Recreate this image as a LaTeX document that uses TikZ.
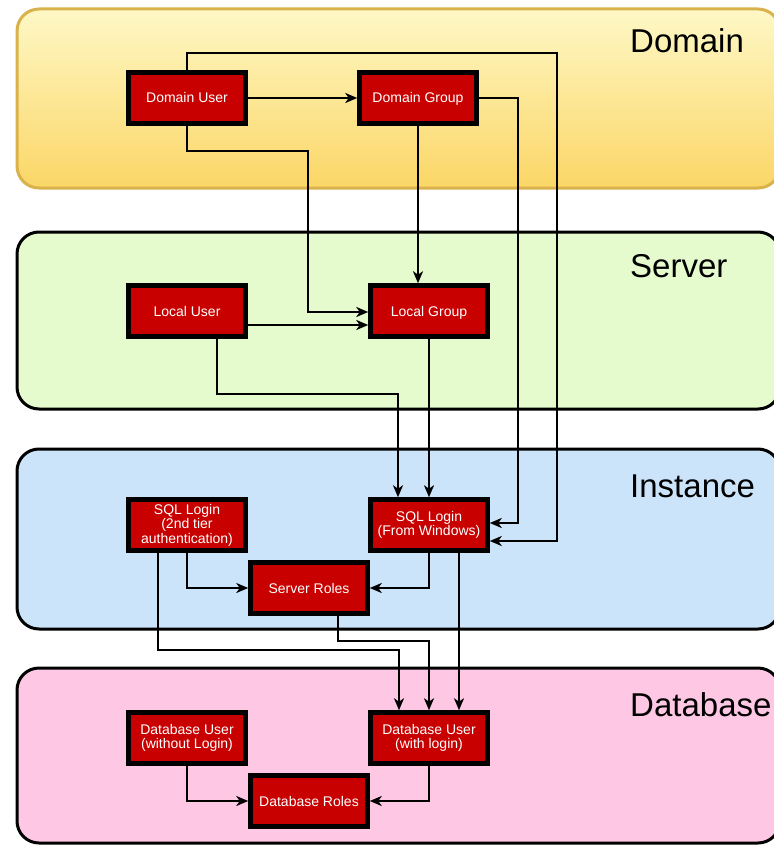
\documentclass[tikz,border=0pt]{standalone}
\usepackage{fontspec}
\setmainfont{Liberation Sans}
\usetikzlibrary{arrows.meta}
\definecolor{boxred}{HTML}{C80000}
\definecolor{domtop}{HTML}{FEF8C6}
\definecolor{dombot}{HTML}{FBD666}
\definecolor{domline}{HTML}{D9B24C}
\definecolor{srvfill}{HTML}{E5FBCD}
\definecolor{insfill}{HTML}{CCE4FA}
\definecolor{dbfill}{HTML}{FEC7E4}
\tikzset{
  objbox/.style={draw=black, line width=4.5pt, fill=boxred, text=white,
    minimum width=117pt, minimum height=51pt, inner sep=0pt, align=center,
    font=\fontsize{14}{14.5}\selectfont},
  oneline/.style={text height=10pt, text depth=0pt},
  panel/.style={line width=3pt, rounded corners=22pt},
  paneltitle/.style={anchor=base west, inner sep=0pt, font=\fontsize{33}{36}\selectfont},
  arr/.style={line width=2.3pt, -{Stealth[length=12pt,width=10pt,inset=3.5pt]}}
}
\begin{document}
\begin{tikzpicture}[x=1pt, y=-1pt]
\useasboundingbox (0,0) rectangle (773,845);

% layer panels
\path[panel, draw=domline, top color=domtop, bottom color=dombot] (17,9) rectangle (780,188);
\path[panel, draw=black, fill=srvfill] (17,232) rectangle (780,409);
\path[panel, draw=black, fill=insfill] (17,449) rectangle (780,629);
\path[panel, draw=black, fill=dbfill] (17,668) rectangle (780,843);

\node[paneltitle] (tdom) at (630,53) {Domain};
\node[paneltitle] (tsrv) at (630,277) {Server};
\node[paneltitle] (tins) at (630,497) {Instance};
\node[paneltitle] (tdb) at (630,716) {Database};

% principals
\node[objbox, oneline] (du) at (187,98) {Domain User};
\node[objbox, oneline] (dg) at (418,98) {Domain Group};
\node[objbox, oneline] (lu) at (187,311) {Local User};
\node[objbox, oneline] (lg) at (429,311) {Local Group};
\node[objbox] (sq) at (187,525) {SQL Login\\(2nd tier\\authentication)};
\node[objbox] (sw) at (429,525) {SQL Login\\(From Windows)};
\node[objbox, oneline] (sr) at (309,588) {Server Roles};
\node[objbox] (dn) at (187,738) {Database User\\(without Login)};
\node[objbox] (dl) at (429,738) {Database User\\(with login)};
\node[objbox, oneline] (dr) at (309,801) {Database Roles};

% memberships and mappings
\draw[arr] (du.east) -- (dg.west);
\draw[arr] (du.north) -- ++(0,-17) -| (557,541) -- ([yshift=-16pt]sw.east);
\draw[arr] (dg.east) -| (518,523) -- ([yshift=2pt]sw.east);
\draw[arr] (dg.south) -- (dg.south |- lg.north);
\draw[arr] (du.south) -- ++(0,25) -| (308,312) -- ([yshift=-1pt]lg.west);
\draw[arr] ([yshift=-14pt]lu.east) -- ([yshift=-14pt]lg.west);
\draw[arr] ([xshift=30pt]lu.south) -- ++(0,55) -| ([xshift=-31pt]sw.north);
\draw[arr] (lg.south) -- (sw.north);
\draw[arr] (sq.south) |- (sr.west);
\draw[arr] (sw.south) |- (sr.east);
\draw[arr] ([xshift=-29pt]sq.south) -- ++(0,97) -| ([xshift=-30pt]dl.north);
\draw[arr] ([xshift=29pt]sr.south) -- ++(0,25) -| (dl.north);
\draw[arr] ([xshift=30pt]sw.south) -- ([xshift=30pt]dl.north);
\draw[arr] (dn.south) |- (dr.west);
\draw[arr] (dl.south) |- (dr.east);
\end{tikzpicture}
\end{document}
